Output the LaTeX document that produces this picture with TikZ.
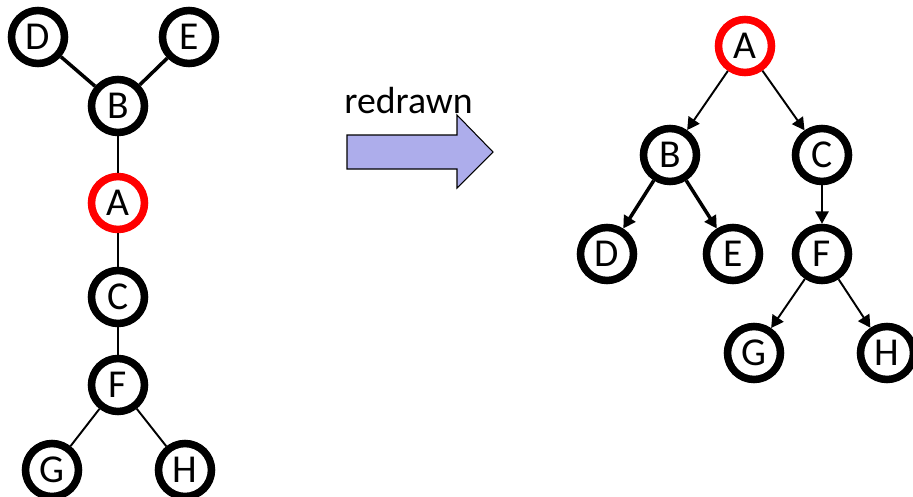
\documentclass[tikz,border=0pt]{standalone}
\usepackage{fontspec}
\setmainfont{Carlito}
\usetikzlibrary{arrows.meta}
\definecolor{arrowfill}{RGB}{173,173,235}

\begin{document}
\begin{tikzpicture}[x=0.02cm, y=-0.02cm, >={Triangle[length=7pt, width=7.5pt]},
    vtx/.style={circle, draw, line width=4.3pt, minimum size=1.06cm, inner sep=0pt,
                fill=white, font=\fontsize{22.5}{26}\selectfont},
    rootvtx/.style={vtx, draw=red},
    link/.style={line width=1.1pt},
    boldlink/.style={line width=2pt}]
    \useasboundingbox (0, 0) rectangle (913, 497);
    % left tree, A in the middle
    \node[vtx] (lD) at (38, 37) {D};
    \node[vtx] (lE) at (189, 37) {E};
    \node[vtx] (lB) at (118, 106) {B};
    \node[rootvtx] (lA) at (118, 203) {A};
    \node[vtx] (lC) at (118, 297) {C};
    \node[vtx] (lF) at (118, 385) {F};
    \node[vtx] (lG) at (52, 470) {G};
    \node[vtx] (lH) at (185, 470) {H};
    \draw[boldlink] (lD) -- (lB);
    \draw[boldlink] (lE) -- (lB);
    \draw[link] (lB) -- (lA);
    \draw[link] (lA) -- (lC);
    \draw[link] (lC) -- (lF);
    \draw[link] (lF) -- (lG);
    \draw[link] (lF) -- (lH);
    % big arrow
    \node[anchor=base west, inner sep=0pt, font=\fontsize{21.5}{24}\selectfont] (lbl) at (344, 113) {redrawn};
    \draw[fill=arrowfill, line width=0.6pt] (347, 135) -- (457, 135) -- (457, 115) -- (493, 152)
        -- (457, 188) -- (457, 169) -- (347, 169) -- cycle;
    % right tree, rooted at A
    \node[rootvtx] (rA) at (745, 46) {A};
    \node[vtx] (rB) at (670, 155) {B};
    \node[vtx] (rC) at (822, 155) {C};
    \node[vtx] (rD) at (607, 254) {D};
    \node[vtx] (rE) at (733, 254) {E};
    \node[vtx] (rF) at (822, 254) {F};
    \node[vtx] (rG) at (754, 353) {G};
    \node[vtx] (rH) at (887, 353) {H};
    \draw[link, ->] (rA) -- (rB);
    \draw[link, ->] (rA) -- (rC);
    \draw[boldlink, ->] (rB) -- (rD);
    \draw[boldlink, ->] (rB) -- (rE);
    \draw[link, ->] (rC) -- (rF);
    \draw[link, ->] (rF) -- (rG);
    \draw[link, ->] (rF) -- (rH);
\end{tikzpicture}
\end{document}
